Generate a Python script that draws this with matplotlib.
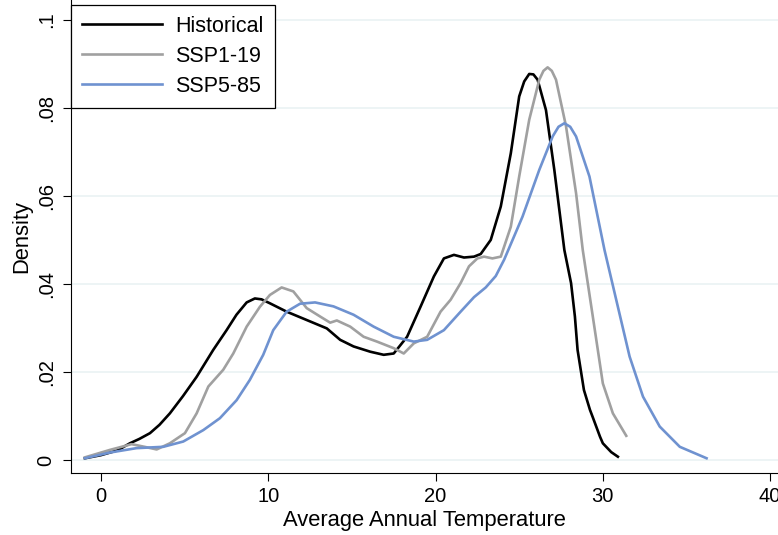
import numpy as np
import matplotlib
matplotlib.use("Agg")
import matplotlib.pyplot as plt

plt.rcParams['font.family'] = ['Liberation Sans', 'DejaVu Sans']

# values (x = temperature, y = density)
hist_x = [-0.96, 0.0, 1.0, 1.73, 2.3, 2.93, 3.5, 4.12, 4.9, 5.72, 6.71, 7.51, 8.1, 8.71,
          9.2, 9.6, 10.1, 11.1, 12.3, 13.5, 14.3, 15.1, 16.1, 16.9, 17.5, 18.3, 19.1,
          19.9, 20.5, 21.1, 21.7, 22.3, 22.7, 23.3, 23.9, 24.5, 25.0, 25.3, 25.6, 25.85,
          26.1, 26.6, 27.1, 27.7, 28.1, 28.33, 28.49, 28.87, 29.23, 29.39, 29.83, 30.0,
          30.5, 30.9]
hist_y = [0.0004, 0.0011, 0.0022, 0.0038, 0.0048, 0.0061, 0.0080, 0.0106, 0.0145, 0.0189,
          0.0250, 0.0295, 0.0330, 0.0358, 0.0367, 0.0365, 0.0356, 0.0337, 0.0318, 0.0299,
          0.0273, 0.0258, 0.0246, 0.0239, 0.0242, 0.0280, 0.0348, 0.0417, 0.0458, 0.0466,
          0.0460, 0.0462, 0.0468, 0.0500, 0.0576, 0.0697, 0.0826, 0.0860, 0.0877, 0.0876,
          0.0864, 0.0795, 0.0659, 0.0477, 0.0402, 0.0326, 0.0250, 0.0159, 0.0114, 0.0098,
          0.0053, 0.0038, 0.0018, 0.00075]

ssp1_x = [-0.96, 0.54, 1.83, 2.6, 3.33, 4.12, 5.02, 5.72, 6.42, 7.31, 7.91, 8.71, 9.5, 10.1,
          10.8, 11.5, 12.3, 13.1, 13.7, 14.1, 14.9, 15.7, 16.5, 17.5, 18.1, 18.7, 19.5,
          20.3, 20.9, 21.5, 22.0, 22.5, 22.9, 23.4, 23.9, 24.5, 25.0, 25.6, 26.2, 26.45,
          26.7, 26.95, 27.2, 27.8, 28.4, 28.8, 29.4, 30.0, 30.6, 31.4]
ssp1_y = [0.0006, 0.0023, 0.0036, 0.0030, 0.0024, 0.0038, 0.0061, 0.0106, 0.0167, 0.0205,
          0.0242, 0.0303, 0.0348, 0.0375, 0.0392, 0.0383, 0.0345, 0.0326, 0.0312, 0.0317,
          0.0303, 0.0280, 0.0269, 0.0254, 0.0242, 0.0265, 0.0280, 0.0337, 0.0364, 0.0402,
          0.0440, 0.0458, 0.0462, 0.0458, 0.0462, 0.0530, 0.0644, 0.0773, 0.0864, 0.0884,
          0.0892, 0.0884, 0.0864, 0.0758, 0.0606, 0.0477, 0.0326, 0.0174, 0.0106, 0.0055]

ssp5_x = [-0.96, 0.54, 2.13, 3.73, 4.92, 6.12, 7.11, 8.11, 8.9, 9.7, 10.3, 11.1, 11.9, 12.8,
          13.9, 15.1, 16.3, 17.5, 18.7, 19.5, 20.5, 21.5, 22.3, 23.0, 23.6, 24.1, 25.2,
          26.2, 27.0, 27.35, 27.7, 28.05, 28.4, 29.2, 30.1, 30.8, 31.6, 32.4, 33.4, 34.6, 36.2]
ssp5_y = [0.0004, 0.0017, 0.0027, 0.0030, 0.0042, 0.0068, 0.0095, 0.0136, 0.0182, 0.0239,
          0.0295, 0.0337, 0.0355, 0.0358, 0.0349, 0.0330, 0.0303, 0.0280, 0.0269, 0.0273,
          0.0295, 0.0337, 0.0370, 0.0392, 0.0418, 0.0455, 0.0553, 0.0659, 0.0735, 0.0757,
          0.0765, 0.0757, 0.0735, 0.0644, 0.0477, 0.0364, 0.0235, 0.0144, 0.0076, 0.0030,
          0.0004]

yticks = [0, 0.02, 0.04, 0.06, 0.08, 0.1]
ytick_labels = ['0', '.02', '.04', '.06', '.08', '.1']
xticks = [0, 10, 20, 30, 40]

fig = plt.figure(figsize=(7.78, 5.35), dpi=100)
ax = fig.add_axes([71 / 778, 62 / 535, 1 - 71 / 778, 1 - 62 / 535])

for yv in yticks:
    ax.axhline(yv, color='#eaf2f3', lw=1.2, zorder=0)

lw = 1.9
ax.plot(hist_x, hist_y, color='black', lw=lw, label='Historical', solid_joinstyle='round')
ax.plot(ssp1_x, ssp1_y, color='#a0a0a0', lw=lw, label='SSP1-19', solid_joinstyle='round')
ax.plot(ssp5_x, ssp5_y, color='#6f92d0', lw=lw, label='SSP5-85', solid_joinstyle='round')

ax.set_xlim(-1.79, 40.47)
ax.set_ylim(-0.00295, 0.1045)
ax.spines['top'].set_visible(False)
ax.spines['right'].set_visible(False)
ax.spines['left'].set_linewidth(0.8)
ax.spines['bottom'].set_linewidth(0.8)

ax.set_yticks(yticks)
ax.set_yticklabels(ytick_labels, rotation=90, va='center')
ax.set_xticks(xticks)
ax.tick_params(axis='both', direction='out', length=6, width=0.8, labelsize=14.5)
ax.tick_params(axis='y', pad=5)
ax.tick_params(axis='x', pad=4)

ax.set_xlabel('Average Annual Temperature', fontsize=15.8, labelpad=3)
ax.set_ylabel('Density', fontsize=15.8, labelpad=3)

leg = ax.legend(loc='upper left', bbox_to_anchor=(0, 1 - 5 / 473), fontsize=15.5,
                frameon=True, fancybox=False, edgecolor='black', framealpha=1,
                handlelength=3.75, handletextpad=0.6, labelspacing=0.42,
                borderpad=0.5, borderaxespad=0)
leg.get_frame().set_linewidth(0.9)

fig.savefig('out.png', dpi=100)
